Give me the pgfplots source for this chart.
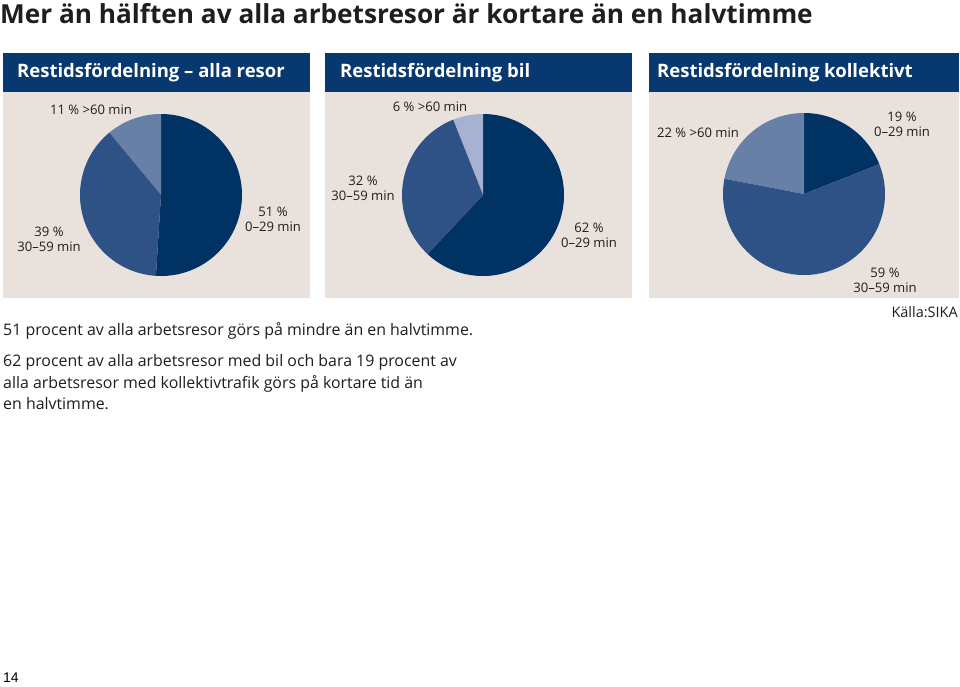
\documentclass[border=0pt]{standalone}
\usepackage{pgfplots}
\pgfplotsset{compat=1.18}
\usepackage{fontspec}
\setmainfont{Open Sans}
\newfontfamily\arialf{Liberation Sans}
\definecolor{hdr}{RGB}{8,56,112}
\definecolor{panelbg}{RGB}{232,225,220}
\definecolor{cdark}{RGB}{0,50,99}
\definecolor{cmid}{RGB}{46,82,133}
\definecolor{clight}{RGB}{104,128,168}
\definecolor{cvlight}{RGB}{166,178,208}
\definecolor{txt}{RGB}{30,30,30}
% shares (percent): 0-29 min, 30-59 min, >60 min
\def\AllA{51}\def\AllB{39}\def\AllC{11}
\def\CarA{62}\def\CarB{32}\def\CarC{6}
\def\PubA{19}\def\PubB{59}\def\PubC{22}
\pgfplotsset{pie/.style={anchor=origin, width=162pt, height=162pt, scale only axis,
  hide axis, xmin=-1, xmax=1, ymin=-1, ymax=1, clip=false},
  wedge/.style={draw=none, samples=120, smooth}}
\newcommand\lab[3]{\node[font=\fontsize{13.1}{15}\selectfont, text=txt, align=center] at (#1,-#2) {#3};}
\begin{document}
\begin{tikzpicture}[x=1pt,y=1pt]
\fill[white] (0,0) rectangle (960,-686);
% title
\node[anchor=west, font=\fontsize{26.2}{30}\selectfont\bfseries, text=txt, inner sep=0pt] at (0,-14) {Mer än hälften av alla arbetsresor är kortare än en halvtimme};
% panels
\foreach \xa/\xb in {3/310, 325/632, 649/959}{
  \fill[hdr] (\xa,-53) rectangle (\xb,-92);
  \fill[panelbg] (\xa,-92) rectangle (\xb,-298);
}
\node[anchor=west, font=\fontsize{18.5}{21}\selectfont\bfseries, text=white, inner sep=0pt] at (17,-73) {Restidsfördelning – alla resor};
\node[anchor=west, font=\fontsize{18.5}{21}\selectfont\bfseries, text=white, inner sep=0pt] at (340,-73) {Restidsfördelning bil};
\node[anchor=west, font=\fontsize{18.5}{21}\selectfont\bfseries, text=white, inner sep=0pt] at (657,-73) {Restidsfördelning kollektivt};
% pie 1
\begin{axis}[pie, at={(161pt,-195pt)}]
\addplot[wedge, fill=cdark, domain={90-3.6*\AllA}:90] ({cos(x)},{sin(x)}) -- (axis cs:0,0) -- cycle;
\addplot[wedge, fill=clight, domain=90:{90+3.6*\AllC}] ({cos(x)},{sin(x)}) -- (axis cs:0,0) -- cycle;
\addplot[wedge, fill=cmid, domain={90+3.6*\AllC}:{450-3.6*\AllA}] ({cos(x)},{sin(x)}) -- (axis cs:0,0) -- cycle;
\end{axis}
% pie 2
\begin{axis}[pie, at={(483pt,-195pt)}]
\addplot[wedge, fill=cdark, domain={90-3.6*\CarA}:90] ({cos(x)},{sin(x)}) -- (axis cs:0,0) -- cycle;
\addplot[wedge, fill=cvlight, domain=90:{90+3.6*\CarC}] ({cos(x)},{sin(x)}) -- (axis cs:0,0) -- cycle;
\addplot[wedge, fill=cmid, domain={90+3.6*\CarC}:{450-3.6*\CarA}] ({cos(x)},{sin(x)}) -- (axis cs:0,0) -- cycle;
\end{axis}
% pie 3
\begin{axis}[pie, at={(804pt,-194pt)}]
\addplot[wedge, fill=cdark, domain={90-3.6*\PubA}:90] ({cos(x)},{sin(x)}) -- (axis cs:0,0) -- cycle;
\addplot[wedge, fill=clight, domain=90:{90+3.6*\PubC}] ({cos(x)},{sin(x)}) -- (axis cs:0,0) -- cycle;
\addplot[wedge, fill=cmid, domain={90+3.6*\PubC}:{450-3.6*\PubA}] ({cos(x)},{sin(x)}) -- (axis cs:0,0) -- cycle;
\end{axis}
% labels
\lab{91}{110}{11 \% >60 min}
\lab{273}{219}{51 \%\\0–29 min}
\lab{49}{239}{39 \%\\30–59 min}
\lab{430}{107}{6 \% >60 min}
\lab{363}{188}{32 \%\\30–59 min}
\lab{589}{235}{62 \%\\0–29 min}
\lab{698}{133}{22 \% >60 min}
\lab{902}{124}{19 \%\\0–29 min}
\lab{885}{280}{59 \%\\30–59 min}
% texts
\node[anchor=west, font=\fontsize{15.9}{21.8}\selectfont, text=txt, inner sep=0pt] at (3,-331) {51 procent av alla arbetsresor görs på mindre än en halvtimme.};
\node[anchor=north west, font=\fontsize{15.9}{21.8}\selectfont, text=txt, inner sep=0pt, align=left] at (3,-354) {62 procent av alla arbetsresor med bil och bara 19 procent av\\alla arbetsresor med kollektivtrafik görs på kortare tid än\\en halvtimme.};
\node[anchor=east, font=\fontsize{14.5}{16}\selectfont, text=txt, inner sep=0pt] at (958,-312) {Källa:SIKA};
\node[anchor=west, font=\fontsize{14}{16}\selectfont\arialf, text=black, inner sep=0pt] at (3,-678) {14};
\end{tikzpicture}
\end{document}
